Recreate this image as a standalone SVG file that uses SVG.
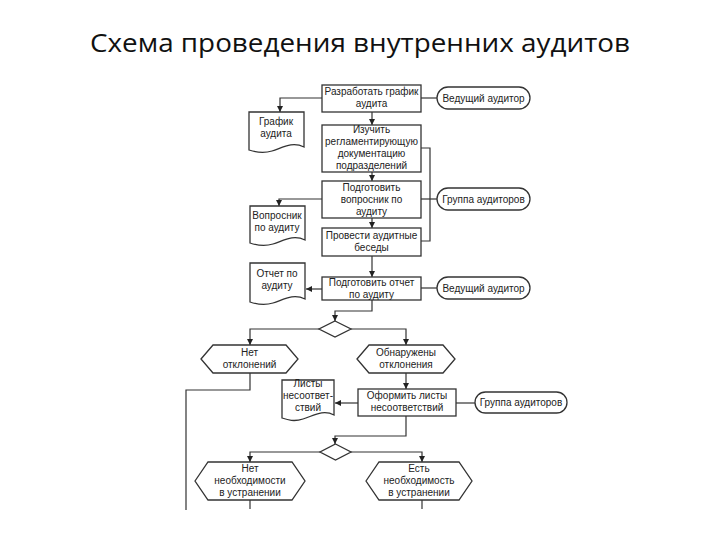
<svg xmlns="http://www.w3.org/2000/svg" width="720" height="540" viewBox="0 0 720 540">
<defs>
<marker id="arr" viewBox="0 0 8 8" refX="8" refY="4" markerWidth="6" markerHeight="6" orient="auto" markerUnits="userSpaceOnUse">
<path d="M0,0 L8,4 L0,8 Z" fill="#222"/>
</marker>
<style>
.s{fill:#fff;stroke:#333;stroke-width:1.3}
.c{fill:none;stroke:#333;stroke-width:1.2}
.a{fill:none;stroke:#333;stroke-width:1.2;marker-end:url(#arr)}
.t{font-family:"Liberation Sans",Arial,sans-serif;font-size:10px;fill:#222;text-anchor:middle}
.title{font-family:"Open Sans","Liberation Sans",sans-serif;font-size:26px;fill:#111;text-anchor:middle}
</style>
</defs>
<rect width="720" height="540" fill="#fff"/>
<text class="title" x="360" y="52" textLength="540" lengthAdjust="spacingAndGlyphs">Схема проведения внутренних аудитов</text>

<g id="connectors">
<path class="a" d="M322,98 H280 V112"/>
<path class="c" d="M421,98 H437"/>
<path class="a" d="M372,112 V125"/>
<path class="a" d="M372,172 V181"/>
<path class="a" d="M322,199 H279 V206"/>
<path class="c" d="M421,148 H430 V241 H421"/>
<path class="c" d="M421,199 H437"/>
<path class="a" d="M372,218 V228"/>
<path class="a" d="M372,256 V277"/>
<path class="a" d="M322,289 H306"/>
<path class="c" d="M421,288 H437"/>
<path class="a" d="M372,300 V311 H335 V321"/>
<path class="a" d="M319,329 H250 V345"/>
<path class="a" d="M351,329 H406 V345"/>
<path class="c" d="M250,373 V390 H186 V510"/>
<path class="a" d="M406,373 V389"/>
<path class="a" d="M358,403 H335"/>
<path class="c" d="M456,403 H475"/>
<path class="a" d="M406,416 V436 H335 V444"/>
<path class="a" d="M320,452 H250 V462"/>
<path class="a" d="M351,452 H422 V462"/>
<path class="c" d="M250,500 V509"/>
<path class="c" d="M422,500 V509"/>
</g>

<g id="box1"><rect class="s" x="322" y="85" width="99" height="27"/>
<text class="t" x="371.5" y="95">Разработать график</text><text class="t" x="371.5" y="107">аудита</text></g>

<g id="doc1"><path class="s" d="M249,112 H304 V147 C292,141 282,148 272,151 C262,154 255,152 249,150 Z"/>
<text class="t" x="276" y="125">График</text><text class="t" x="276" y="137">аудита</text></g>

<g id="oval1"><rect class="s" x="437" y="87" width="93" height="22" rx="11"/>
<text class="t" x="483.5" y="101.5">Ведущий аудитор</text></g>

<g id="box2"><rect class="s" x="322" y="125" width="99" height="47"/>
<text class="t" x="371.5" y="133">Изучить</text><text class="t" x="371.5" y="145">регламентирующую</text><text class="t" x="371.5" y="157">документацию</text><text class="t" x="371.5" y="169">подразделений</text></g>

<g id="box3"><rect class="s" x="322" y="181" width="99" height="37"/>
<text class="t" x="371.5" y="191">Подготовить</text><text class="t" x="371.5" y="203">вопросник по</text><text class="t" x="371.5" y="215">аудиту</text></g>

<g id="doc2"><path class="s" d="M250,206 H305 V240 C293,234 283,241 273,244 C263,247 256,245 250,243 Z"/>
<text class="t" x="277" y="219">Вопросник</text><text class="t" x="277" y="231">по аудиту</text></g>

<g id="oval2"><rect class="s" x="437" y="188" width="93" height="22" rx="11"/>
<text class="t" x="483.5" y="202.5">Группа аудиторов</text></g>

<g id="box4"><rect class="s" x="322" y="228" width="99" height="28"/>
<text class="t" x="371.5" y="239">Провести аудитные</text><text class="t" x="371.5" y="251">беседы</text></g>

<g id="box5"><rect class="s" x="322" y="277" width="99" height="23"/>
<text class="t" x="371.5" y="286">Подготовить отчет</text><text class="t" x="371.5" y="298">по аудиту</text></g>

<g id="doc3"><path class="s" d="M250,263 H305 V299 C293,293 283,300 273,303 C263,306 256,304 250,302 Z"/>
<text class="t" x="277" y="277">Отчет по</text><text class="t" x="277" y="289">аудиту</text></g>

<g id="oval3"><rect class="s" x="437" y="277" width="93" height="22" rx="11"/>
<text class="t" x="483.5" y="291.5">Ведущий аудитор</text></g>

<g id="dec1"><path class="s" d="M335,321 L351,329 L335,337 L319,329 Z"/></g>

<g id="hex1"><path class="s" d="M201,359 L213,345 H286 L298,359 L286,373 H213 Z"/>
<text class="t" x="249.5" y="356">Нет</text><text class="t" x="249.5" y="368">отклонений</text></g>

<g id="hex2"><path class="s" d="M357,359 L369,345 H443 L455,359 L443,373 H369 Z"/>
<text class="t" x="406" y="356">Обнаружены</text><text class="t" x="406" y="368">отклонения</text></g>

<g id="box6"><rect class="s" x="358" y="389" width="98" height="27"/>
<text class="t" x="407" y="399">Оформить листы</text><text class="t" x="407" y="411">несоответствий</text></g>

<g id="doc4"><path class="s" d="M282,380 H334 V415 C323,409 313,416 303,419 C294,422 288,420 282,418 Z"/>
<text class="t" x="308" y="387">Листы</text><text class="t" x="308" y="399">несоответ-</text><text class="t" x="308" y="411">ствий</text></g>

<g id="oval4"><rect class="s" x="475" y="392" width="92" height="21" rx="10.5"/>
<text class="t" x="521" y="406">Группа аудиторов</text></g>

<g id="dec2"><path class="s" d="M335.5,444 L351,452 L335.5,460 L320,452 Z"/></g>

<g id="hex3"><path class="s" d="M195,481 L208,462 H292 L305,481 L292,500 H208 Z"/>
<text class="t" x="250" y="472">Нет</text><text class="t" x="250" y="484">необходимости</text><text class="t" x="250" y="496">в устранении</text></g>

<g id="hex4"><path class="s" d="M366,481 L379,462 H459 L472,481 L459,500 H379 Z"/>
<text class="t" x="419" y="472">Есть</text><text class="t" x="419" y="484">необходимость</text><text class="t" x="419" y="496">в устранении</text></g>
</svg>
